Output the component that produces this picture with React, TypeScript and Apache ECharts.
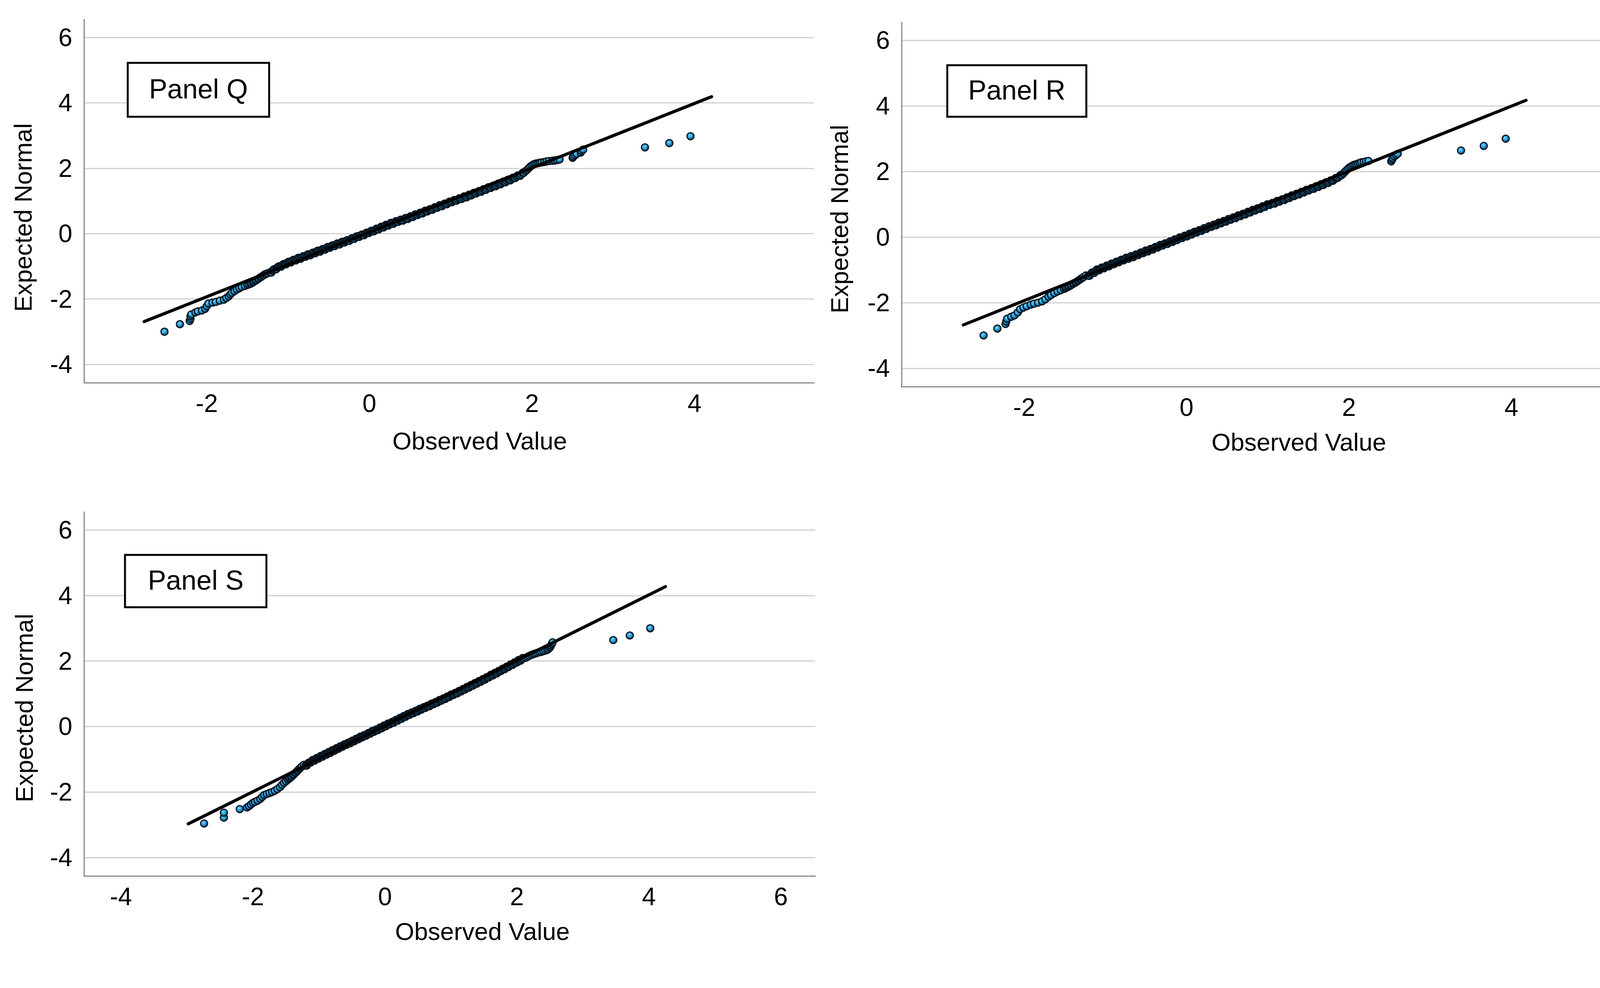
import React, { useEffect, useRef } from "react";
import * as echarts from "echarts";

// ---------- texts / ticks ----------
const panelNames = ["Panel Q", "Panel R", "Panel S"];
const xTitle = "Observed Value";
const yTitle = "Expected Normal";
const yTicks = [-4, -2, 0, 2, 4, 6];
const xTicksQR = [-2, 0, 2, 4];
const xTicksS = [-4, -2, 0, 2, 4, 6];

// ---------- Panel Q (observed, expected) ----------
const qLow = [
  [-2.52, -3.0], [-2.33, -2.77], [-2.21, -2.67], [-2.2, -2.6], [-2.2, -2.53], [-2.19, -2.47],
  [-2.14, -2.41], [-2.11, -2.38], [-2.06, -2.35], [-2.02, -2.3], [-2.0, -2.22], [-1.98, -2.14],
  [-1.93, -2.11], [-1.89, -2.09], [-1.84, -2.05], [-1.79, -2.02], [-1.76, -1.97], [-1.73, -1.92],
  [-1.71, -1.86], [-1.69, -1.81], [-1.66, -1.76], [-1.63, -1.71], [-1.6, -1.67], [-1.57, -1.63],
  [-1.53, -1.6], [-1.5, -1.57], [-1.48, -1.55], [-1.46, -1.53], [-1.45, -1.52], [-1.43, -1.49],
  [-1.42, -1.47], [-1.4, -1.44], [-1.39, -1.42], [-1.37, -1.39], [-1.36, -1.37], [-1.34, -1.34],
  [-1.33, -1.32], [-1.31, -1.29], [-1.3, -1.27], [-1.28, -1.24], [-1.27, -1.23], [-1.25, -1.21]
];
const qMid = [
  [-1.22, -1.18], [-1.19, -1.13], [-1.16, -1.08], [-1.13, -1.03], [-1.1, -1.0], [-1.07, -0.96],
  [-1.04, -0.93], [-1.01, -0.89], [-0.98, -0.86], [-0.95, -0.83], [-0.92, -0.8], [-0.89, -0.77],
  [-0.86, -0.75], [-0.83, -0.72], [-0.8, -0.69], [-0.77, -0.66], [-0.74, -0.64], [-0.71, -0.61],
  [-0.68, -0.58], [-0.65, -0.55], [-0.62, -0.53], [-0.59, -0.5], [-0.56, -0.47], [-0.53, -0.44],
  [-0.5, -0.41], [-0.47, -0.39], [-0.44, -0.36], [-0.41, -0.33], [-0.38, -0.31], [-0.35, -0.28],
  [-0.32, -0.25], [-0.29, -0.23], [-0.26, -0.2], [-0.23, -0.17], [-0.2, -0.14], [-0.17, -0.11],
  [-0.14, -0.08], [-0.11, -0.06], [-0.08, -0.03], [-0.05, 0.0], [-0.02, 0.03], [0.01, 0.06],
  [0.04, 0.08], [0.07, 0.11], [0.1, 0.14], [0.13, 0.17], [0.16, 0.2], [0.19, 0.23],
  [0.22, 0.26], [0.25, 0.29], [0.28, 0.32], [0.31, 0.34], [0.34, 0.37], [0.37, 0.4],
  [0.4, 0.41], [0.43, 0.44], [0.46, 0.47], [0.49, 0.49], [0.52, 0.52], [0.55, 0.55],
  [0.58, 0.58], [0.61, 0.61], [0.64, 0.63], [0.67, 0.66], [0.7, 0.69], [0.73, 0.72],
  [0.76, 0.74], [0.79, 0.77], [0.82, 0.8], [0.85, 0.83], [0.88, 0.86], [0.91, 0.88],
  [0.94, 0.91], [0.97, 0.94], [1.0, 0.97], [1.03, 1.0], [1.06, 1.02], [1.09, 1.05],
  [1.12, 1.07], [1.15, 1.1], [1.18, 1.13], [1.21, 1.15], [1.24, 1.18], [1.27, 1.21],
  [1.3, 1.24], [1.33, 1.27], [1.36, 1.29], [1.39, 1.32], [1.42, 1.35], [1.45, 1.38],
  [1.48, 1.41], [1.51, 1.44], [1.54, 1.46], [1.57, 1.49], [1.6, 1.52], [1.63, 1.55],
  [1.66, 1.58], [1.69, 1.61], [1.72, 1.64], [1.75, 1.67], [1.78, 1.7], [1.81, 1.74],
  [1.84, 1.77], [1.87, 1.81], [1.9, 1.86], [1.92, 1.91], [1.94, 1.95], [1.96, 2.0], [1.98, 2.05]
];
const qMid2 = [
  [-1.205, -1.19], [-1.175, -1.09], [-1.145, -1.09], [-1.115, -1.0], [-1.085, -1.01], [-1.055, -0.93],
  [-1.025, -0.94], [-0.995, -0.86], [-0.965, -0.88], [-0.935, -0.8], [-0.905, -0.82], [-0.875, -0.74],
  [-0.845, -0.77], [-0.815, -0.69], [-0.785, -0.71], [-0.755, -0.63], [-0.725, -0.66], [-0.695, -0.58],
  [-0.665, -0.6], [-0.635, -0.52], [-0.605, -0.55], [-0.575, -0.47], [-0.545, -0.49], [-0.515, -0.41],
  [-0.485, -0.43], [-0.455, -0.36], [-0.425, -0.38], [-0.395, -0.3], [-0.365, -0.33], [-0.335, -0.25],
  [-0.305, -0.27], [-0.275, -0.2], [-0.245, -0.22], [-0.215, -0.14], [-0.185, -0.16], [-0.155, -0.08],
  [-0.125, -0.1], [-0.095, -0.03], [-0.065, -0.05], [-0.035, 0.03], [-0.005, 0.02], [0.025, 0.09],
  [0.055, 0.07], [0.085, 0.15], [0.115, 0.13], [0.145, 0.21], [0.175, 0.19], [0.205, 0.27],
  [0.235, 0.25], [0.265, 0.33], [0.295, 0.3], [0.325, 0.38], [0.355, 0.36], [0.385, 0.43],
  [0.415, 0.4], [0.445, 0.48], [0.475, 0.45], [0.505, 0.53], [0.535, 0.51], [0.565, 0.59],
  [0.595, 0.57], [0.625, 0.64], [0.655, 0.62], [0.685, 0.7], [0.715, 0.68], [0.745, 0.75],
  [0.775, 0.73], [0.805, 0.81], [0.835, 0.79], [0.865, 0.87], [0.895, 0.84], [0.925, 0.92],
  [0.955, 0.9], [0.985, 0.98], [1.015, 0.96], [1.045, 1.03], [1.075, 1.01], [1.105, 1.08],
  [1.135, 1.06], [1.165, 1.14], [1.195, 1.11], [1.225, 1.19], [1.255, 1.17], [1.285, 1.25],
  [1.315, 1.23], [1.345, 1.3], [1.375, 1.28], [1.405, 1.36], [1.435, 1.34], [1.465, 1.42],
  [1.495, 1.4], [1.525, 1.47], [1.555, 1.45], [1.585, 1.53], [1.615, 1.51], [1.645, 1.59],
  [1.675, 1.57], [1.705, 1.65], [1.735, 1.63], [1.765, 1.71], [1.795, 1.7], [1.825, 1.78],
  [1.855, 1.77], [1.885, 1.86]
];
const qHigh = [
  [2.0, 2.09], [2.02, 2.12], [2.04, 2.14], [2.06, 2.15], [2.08, 2.16], [2.1, 2.17], [2.12, 2.18],
  [2.15, 2.19], [2.18, 2.21], [2.21, 2.22], [2.25, 2.23], [2.28, 2.24], [2.31, 2.25], [2.34, 2.27],
  [2.5, 2.32], [2.51, 2.36], [2.53, 2.4], [2.55, 2.44], [2.6, 2.48], [2.61, 2.53], [2.63, 2.57],
  [3.39, 2.64], [3.69, 2.77], [3.95, 2.98]
];
const qLine = [[-2.77, -2.69], [4.21, 4.19]];

// ---------- Panel R ----------
const rLow = [
  [-2.5, -3.0], [-2.33, -2.79], [-2.23, -2.65], [-2.22, -2.57], [-2.21, -2.49], [-2.16, -2.43],
  [-2.12, -2.39], [-2.08, -2.3], [-2.05, -2.2], [-2.01, -2.15], [-1.97, -2.11], [-1.92, -2.06],
  [-1.88, -2.03], [-1.83, -2.0], [-1.78, -1.96], [-1.74, -1.9], [-1.7, -1.82], [-1.67, -1.77],
  [-1.63, -1.71], [-1.59, -1.66], [-1.55, -1.62], [-1.51, -1.58], [-1.49, -1.56], [-1.48, -1.54],
  [-1.46, -1.52], [-1.45, -1.5], [-1.43, -1.48], [-1.42, -1.46], [-1.4, -1.43], [-1.39, -1.41],
  [-1.37, -1.39], [-1.36, -1.37], [-1.34, -1.34], [-1.33, -1.32], [-1.31, -1.29], [-1.3, -1.27],
  [-1.28, -1.24], [-1.27, -1.22], [-1.24, -1.17]
];
const rMid = [
  [-1.21, -1.18], [-1.18, -1.13], [-1.15, -1.08], [-1.12, -1.04], [-1.09, -1.0], [-1.06, -0.97],
  [-1.03, -0.94], [-1.0, -0.91], [-0.97, -0.88], [-0.94, -0.85], [-0.91, -0.82], [-0.88, -0.79],
  [-0.85, -0.76], [-0.82, -0.73], [-0.79, -0.7], [-0.76, -0.67], [-0.73, -0.65], [-0.7, -0.62],
  [-0.67, -0.6], [-0.64, -0.57], [-0.61, -0.54], [-0.58, -0.51], [-0.55, -0.48], [-0.52, -0.45],
  [-0.49, -0.43], [-0.46, -0.4], [-0.43, -0.37], [-0.4, -0.34], [-0.37, -0.31], [-0.34, -0.28],
  [-0.31, -0.25], [-0.28, -0.22], [-0.25, -0.2], [-0.22, -0.17], [-0.19, -0.14], [-0.16, -0.11],
  [-0.13, -0.08], [-0.1, -0.05], [-0.07, -0.02], [-0.04, 0.01], [-0.01, 0.03], [0.02, 0.06],
  [0.05, 0.09], [0.08, 0.12], [0.11, 0.15], [0.14, 0.18], [0.17, 0.2], [0.2, 0.23],
  [0.23, 0.26], [0.26, 0.29], [0.29, 0.32], [0.32, 0.34], [0.35, 0.37], [0.38, 0.4],
  [0.41, 0.43], [0.44, 0.45], [0.47, 0.48], [0.5, 0.51], [0.53, 0.54], [0.56, 0.56],
  [0.59, 0.59], [0.62, 0.62], [0.65, 0.65], [0.68, 0.68], [0.71, 0.7], [0.74, 0.73],
  [0.77, 0.76], [0.8, 0.79], [0.83, 0.82], [0.86, 0.84], [0.89, 0.87], [0.92, 0.9],
  [0.95, 0.93], [0.98, 0.96], [1.01, 0.99], [1.04, 1.01], [1.07, 1.03], [1.1, 1.06],
  [1.13, 1.09], [1.16, 1.12], [1.19, 1.14], [1.22, 1.17], [1.25, 1.2], [1.28, 1.23],
  [1.31, 1.26], [1.34, 1.28], [1.37, 1.31], [1.4, 1.34], [1.43, 1.37], [1.46, 1.4],
  [1.49, 1.43], [1.52, 1.45], [1.55, 1.48], [1.58, 1.51], [1.61, 1.54], [1.64, 1.57],
  [1.67, 1.6], [1.7, 1.63], [1.73, 1.66], [1.76, 1.69], [1.79, 1.72], [1.82, 1.76],
  [1.85, 1.8], [1.88, 1.85], [1.91, 1.89], [1.93, 1.94], [1.95, 1.99], [1.97, 2.04]
];
const rMid2 = [
  [-1.195, -1.18], [-1.165, -1.08], [-1.135, -1.09], [-1.105, -0.99], [-1.075, -1.01], [-1.045, -0.93],
  [-1.015, -0.95], [-0.985, -0.87], [-0.955, -0.89], [-0.925, -0.81], [-0.895, -0.83], [-0.865, -0.75],
  [-0.835, -0.77], [-0.805, -0.69], [-0.775, -0.71], [-0.745, -0.63], [-0.715, -0.66], [-0.685, -0.58],
  [-0.655, -0.61], [-0.625, -0.53], [-0.595, -0.55], [-0.565, -0.47], [-0.535, -0.49], [-0.505, -0.41],
  [-0.475, -0.44], [-0.445, -0.36], [-0.415, -0.38], [-0.385, -0.3], [-0.355, -0.32], [-0.325, -0.24],
  [-0.295, -0.26], [-0.265, -0.19], [-0.235, -0.21], [-0.205, -0.13], [-0.175, -0.15], [-0.145, -0.07],
  [-0.115, -0.09], [-0.085, -0.01], [-0.055, -0.03], [-0.025, 0.04], [0.005, 0.02], [0.035, 0.1],
  [0.065, 0.08], [0.095, 0.16], [0.125, 0.14], [0.155, 0.21], [0.185, 0.19], [0.215, 0.27],
  [0.245, 0.25], [0.275, 0.33], [0.305, 0.31], [0.335, 0.38], [0.365, 0.36], [0.395, 0.44],
  [0.425, 0.42], [0.455, 0.49], [0.485, 0.47], [0.515, 0.55], [0.545, 0.53], [0.575, 0.6],
  [0.605, 0.58], [0.635, 0.66], [0.665, 0.64], [0.695, 0.71], [0.725, 0.69], [0.755, 0.77],
  [0.785, 0.75], [0.815, 0.83], [0.845, 0.81], [0.875, 0.88], [0.905, 0.86], [0.935, 0.94],
  [0.965, 0.92], [0.995, 1.0], [1.025, 0.98], [1.055, 1.04], [1.085, 1.02], [1.115, 1.1],
  [1.145, 1.08], [1.175, 1.15], [1.205, 1.13], [1.235, 1.21], [1.265, 1.19], [1.295, 1.27],
  [1.325, 1.25], [1.355, 1.32], [1.385, 1.3], [1.415, 1.38], [1.445, 1.36], [1.475, 1.44],
  [1.505, 1.42], [1.535, 1.49], [1.565, 1.47], [1.595, 1.55], [1.625, 1.53], [1.655, 1.61],
  [1.685, 1.59], [1.715, 1.67], [1.745, 1.65], [1.775, 1.73], [1.805, 1.72], [1.835, 1.8],
  [1.865, 1.81], [1.895, 1.89]
];
const rHigh = [
  [1.99, 2.09], [2.01, 2.13], [2.03, 2.16], [2.05, 2.19], [2.07, 2.21], [2.09, 2.22], [2.11, 2.24],
  [2.13, 2.26], [2.15, 2.28], [2.18, 2.29], [2.21, 2.31], [2.24, 2.32], [2.52, 2.31], [2.53, 2.36],
  [2.54, 2.41], [2.56, 2.46], [2.58, 2.5], [2.6, 2.54], [3.38, 2.64], [3.66, 2.78], [3.93, 3.0]
];
const rLine = [[-2.75, -2.68], [4.18, 4.17]];

// ---------- Panel S ----------
const sLow = [
  [-2.74, -2.96], [-2.44, -2.78], [-2.44, -2.63], [-2.2, -2.52], [-2.09, -2.47], [-2.06, -2.43],
  [-2.03, -2.38], [-2.0, -2.33], [-1.97, -2.3], [-1.93, -2.26], [-1.89, -2.21], [-1.86, -2.15],
  [-1.83, -2.09], [-1.79, -2.06], [-1.75, -2.03], [-1.71, -2.0], [-1.67, -1.96], [-1.63, -1.91],
  [-1.59, -1.85], [-1.56, -1.78], [-1.53, -1.72], [-1.5, -1.67], [-1.47, -1.62], [-1.45, -1.59],
  [-1.44, -1.57], [-1.42, -1.54], [-1.41, -1.52], [-1.39, -1.48], [-1.38, -1.46], [-1.36, -1.42],
  [-1.35, -1.4], [-1.33, -1.36], [-1.32, -1.34], [-1.3, -1.3], [-1.29, -1.28], [-1.27, -1.24],
  [-1.26, -1.22], [-1.23, -1.17]
];
const sMid = [
  [-1.2, -1.19], [-1.17, -1.14], [-1.14, -1.1], [-1.11, -1.06], [-1.08, -1.03], [-1.05, -1.0],
  [-1.02, -0.97], [-0.99, -0.94], [-0.96, -0.91], [-0.93, -0.88], [-0.9, -0.85], [-0.87, -0.82],
  [-0.84, -0.79], [-0.81, -0.76], [-0.78, -0.73], [-0.75, -0.7], [-0.72, -0.67], [-0.69, -0.64],
  [-0.66, -0.61], [-0.63, -0.58], [-0.6, -0.55], [-0.57, -0.53], [-0.54, -0.5], [-0.51, -0.47],
  [-0.48, -0.44], [-0.45, -0.41], [-0.42, -0.38], [-0.39, -0.35], [-0.36, -0.32], [-0.33, -0.3],
  [-0.3, -0.27], [-0.27, -0.24], [-0.24, -0.21], [-0.21, -0.18], [-0.18, -0.15], [-0.15, -0.12],
  [-0.12, -0.1], [-0.09, -0.07], [-0.06, -0.04], [-0.03, -0.01], [0.0, 0.02], [0.03, 0.05],
  [0.06, 0.08], [0.09, 0.11], [0.12, 0.13], [0.15, 0.16], [0.18, 0.19], [0.21, 0.22],
  [0.24, 0.25], [0.27, 0.28], [0.3, 0.31], [0.33, 0.34], [0.36, 0.37], [0.39, 0.4],
  [0.42, 0.42], [0.45, 0.45], [0.48, 0.47], [0.51, 0.5], [0.54, 0.53], [0.57, 0.55],
  [0.6, 0.58], [0.63, 0.61], [0.66, 0.63], [0.69, 0.66], [0.72, 0.69], [0.75, 0.71],
  [0.78, 0.74], [0.81, 0.77], [0.84, 0.8], [0.87, 0.82], [0.9, 0.85], [0.93, 0.88],
  [0.96, 0.91], [0.99, 0.94], [1.02, 0.97], [1.05, 0.99], [1.08, 1.02], [1.11, 1.05],
  [1.14, 1.08], [1.17, 1.11], [1.2, 1.14], [1.23, 1.17], [1.26, 1.2], [1.29, 1.23],
  [1.32, 1.26], [1.35, 1.29], [1.38, 1.32], [1.41, 1.35], [1.44, 1.38], [1.47, 1.41],
  [1.5, 1.44], [1.53, 1.47], [1.56, 1.5], [1.59, 1.54], [1.62, 1.57], [1.65, 1.6],
  [1.68, 1.63], [1.71, 1.66], [1.74, 1.69], [1.77, 1.73], [1.8, 1.76], [1.83, 1.79],
  [1.86, 1.82], [1.89, 1.86], [1.92, 1.89], [1.95, 1.92], [1.98, 1.96], [2.01, 1.99],
  [2.04, 2.02], [2.07, 2.05], [2.1, 2.08]
];
const sMid2 = [
  [-1.185, -1.19], [-1.155, -1.1], [-1.125, -1.1], [-1.095, -1.02], [-1.065, -1.04], [-1.035, -0.96],
  [-1.005, -0.98], [-0.975, -0.9], [-0.945, -0.92], [-0.915, -0.84], [-0.885, -0.86], [-0.855, -0.78],
  [-0.825, -0.8], [-0.795, -0.72], [-0.765, -0.74], [-0.735, -0.66], [-0.705, -0.68], [-0.675, -0.6],
  [-0.645, -0.62], [-0.615, -0.54], [-0.585, -0.56], [-0.555, -0.49], [-0.525, -0.51], [-0.495, -0.43],
  [-0.465, -0.45], [-0.435, -0.37], [-0.405, -0.39], [-0.375, -0.31], [-0.345, -0.33], [-0.315, -0.26],
  [-0.285, -0.28], [-0.255, -0.2], [-0.225, -0.22], [-0.195, -0.14], [-0.165, -0.16], [-0.135, -0.09],
  [-0.105, -0.11], [-0.075, -0.03], [-0.045, -0.05], [-0.015, 0.03], [0.015, 0.01], [0.045, 0.09],
  [0.075, 0.07], [0.105, 0.14], [0.135, 0.12], [0.165, 0.2], [0.195, 0.18], [0.225, 0.26],
  [0.255, 0.24], [0.285, 0.32], [0.315, 0.3], [0.345, 0.38], [0.375, 0.36], [0.405, 0.43],
  [0.435, 0.41], [0.465, 0.48], [0.495, 0.46], [0.525, 0.54], [0.555, 0.52], [0.585, 0.59],
  [0.615, 0.57], [0.645, 0.64], [0.675, 0.62], [0.705, 0.7], [0.735, 0.68], [0.765, 0.75],
  [0.795, 0.73], [0.825, 0.81], [0.855, 0.79], [0.885, 0.86], [0.915, 0.84], [0.945, 0.92],
  [0.975, 0.9], [1.005, 0.98], [1.035, 0.96], [1.065, 1.03], [1.095, 1.01], [1.125, 1.09],
  [1.155, 1.07], [1.185, 1.15], [1.215, 1.13], [1.245, 1.21], [1.275, 1.19], [1.305, 1.27],
  [1.335, 1.25], [1.365, 1.33], [1.395, 1.31], [1.425, 1.39], [1.455, 1.37], [1.485, 1.45],
  [1.515, 1.43], [1.545, 1.51], [1.575, 1.5], [1.605, 1.58], [1.635, 1.56], [1.665, 1.64],
  [1.695, 1.62], [1.725, 1.7], [1.755, 1.69], [1.785, 1.77], [1.815, 1.75], [1.845, 1.83],
  [1.875, 1.82], [1.905, 1.9], [1.935, 1.88], [1.965, 1.96], [1.995, 1.95], [2.025, 2.03],
  [2.055, 2.01], [2.085, 2.09]
];
const sHigh = [
  [2.13, 2.1], [2.16, 2.13], [2.19, 2.16], [2.22, 2.19], [2.25, 2.21], [2.28, 2.23], [2.31, 2.25],
  [2.34, 2.27], [2.37, 2.28], [2.4, 2.3], [2.43, 2.32], [2.46, 2.34], [2.48, 2.37], [2.5, 2.41],
  [2.51, 2.45], [2.52, 2.49], [2.53, 2.53], [2.54, 2.57], [3.46, 2.64], [3.71, 2.78], [4.02, 3.0]
];
const sLine = [[-2.98, -2.97], [4.25, 4.27]];

const FONT = "'Liberation Sans', Arial, Helvetica, sans-serif";

// order observations by observed value so overlapping markers stack along the curve
const byObserved = (...parts: number[][][]) =>
  ([] as number[][]).concat(...parts).slice().sort((a, b) => a[0] - b[0]);

export default function App() {
  const ref = useRef<HTMLDivElement>(null);

  useEffect(() => {
    if (!ref.current) return;
    const chart = echarts.init(ref.current, undefined, { renderer: "svg" });

    const panels = [
      {
        grid: { left: 215, top: 50, width: 1869, height: 930 },
        xMin: -3.51, xMax: 5.47, xTicks: xTicksQR,
        points: byObserved(qLow, qMid, qMid2, qHigh), line: qLine,
        box: { x: 327, y: 161, w: 362, h: 138 },
        xTitlePos: [1228, 1129], yTitlePos: [59, 557],
      },
      {
        grid: { left: 2308, top: 57, width: 1873, height: 933 },
        xMin: -3.51, xMax: 5.5, xTicks: xTicksQR,
        points: byObserved(rLow, rMid, rMid2, rHigh), line: rLine,
        box: { x: 2425, y: 167, w: 356, h: 132 },
        xTitlePos: [3325, 1132], yTitlePos: [2149, 561],
      },
      {
        grid: { left: 215, top: 1311, width: 1872, height: 932 },
        xMin: -4.56, xMax: 6.52, xTicks: xTicksS,
        points: byObserved(sLow, sMid, sMid2, sHigh), line: sLine,
        box: { x: 320, y: 1421, w: 362, h: 134 },
        xTitlePos: [1235, 2385], yTitlePos: [62, 1813],
      },
    ];

    // glossy sphere look: bright centre, dark rim
    const dotColor = new echarts.graphic.RadialGradient(0.42, 0.38, 0.62, [
      { offset: 0, color: "#74d6fb" },
      { offset: 0.5, color: "#2aa0dd" },
      { offset: 0.85, color: "#165f8e" },
      { offset: 1, color: "#0b2c44" },
    ]);

    const axisLineStyle = { color: "#8a8a8a", width: 3 };

    const option: any = {
      animation: false,
      backgroundColor: "#ffffff",
      grid: panels.map((p) => ({ ...p.grid, containLabel: false })),
      xAxis: panels.map((p, i) => ({
        type: "value",
        gridIndex: i,
        min: p.xMin,
        max: p.xMax,
        axisLine: { show: true, onZero: false, lineStyle: axisLineStyle },
        axisTick: { show: false, customValues: p.xTicks },
        axisLabel: {
          customValues: p.xTicks,
          fontSize: 64,
          color: "#000",
          fontFamily: FONT,
          margin: 21,
        },
        splitLine: { show: false },
      })),
      yAxis: panels.map((p, i) => ({
        type: "value",
        gridIndex: i,
        min: -4.56,
        max: 6.55,
        axisLine: { show: true, onZero: false, lineStyle: axisLineStyle },
        axisTick: { show: false, customValues: yTicks },
        axisLabel: {
          customValues: yTicks,
          fontSize: 64,
          color: "#000",
          fontFamily: FONT,
          margin: 30,
        },
        splitLine: { show: true, lineStyle: { color: "#c8c8ce", width: 2.5 } },
      })),
      series: [
        ...panels.map((p, i) => ({
          type: "scatter",
          xAxisIndex: i,
          yAxisIndex: i,
          data: p.points,
          symbol: "circle",
          symbolSize: 18,
          large: false,
          progressive: 0,
          itemStyle: { color: dotColor, borderColor: "#06141e", borderWidth: 3, opacity: 1 },
          z: 3,
        })),
        ...panels.map((p, i) => ({
          type: "line",
          xAxisIndex: i,
          yAxisIndex: i,
          data: p.line,
          showSymbol: false,
          symbol: "none",
          lineStyle: { color: "#000", width: 8, cap: "round" },
          z: 4,
        })),
      ],
      graphic: [
        ...panels.flatMap((p, i) => [
          {
            type: "rect",
            z: 100,
            shape: { x: p.box.x, y: p.box.y, width: p.box.w, height: p.box.h },
            style: { fill: "#ffffff", stroke: "#000", lineWidth: 5 },
          },
          {
            type: "text",
            z: 101,
            x: p.box.x + p.box.w / 2,
            y: p.box.y + p.box.h / 2 - 2,
            style: {
              text: panelNames[i],
              font: `70px ${FONT}`,
              fill: "#000",
              align: "center",
              verticalAlign: "middle",
            },
          },
          {
            type: "text",
            z: 101,
            x: p.xTitlePos[0],
            y: p.xTitlePos[1],
            style: {
              text: xTitle,
              font: `63px ${FONT}`,
              fill: "#000",
              align: "center",
              verticalAlign: "middle",
            },
          },
          {
            type: "text",
            z: 101,
            x: p.yTitlePos[0],
            y: p.yTitlePos[1],
            rotation: Math.PI / 2,
            style: {
              text: yTitle,
              font: `63px ${FONT}`,
              fill: "#000",
              align: "center",
              verticalAlign: "middle",
            },
          },
        ]),
      ],
    };

    chart.setOption(option);
    return () => chart.dispose();
  }, []);

  return (
    <div
      ref={ref}
      style={{ position: "absolute", left: 0, top: 0, width: 4204, height: 2530, background: "#fff" }}
    />
  );
}
